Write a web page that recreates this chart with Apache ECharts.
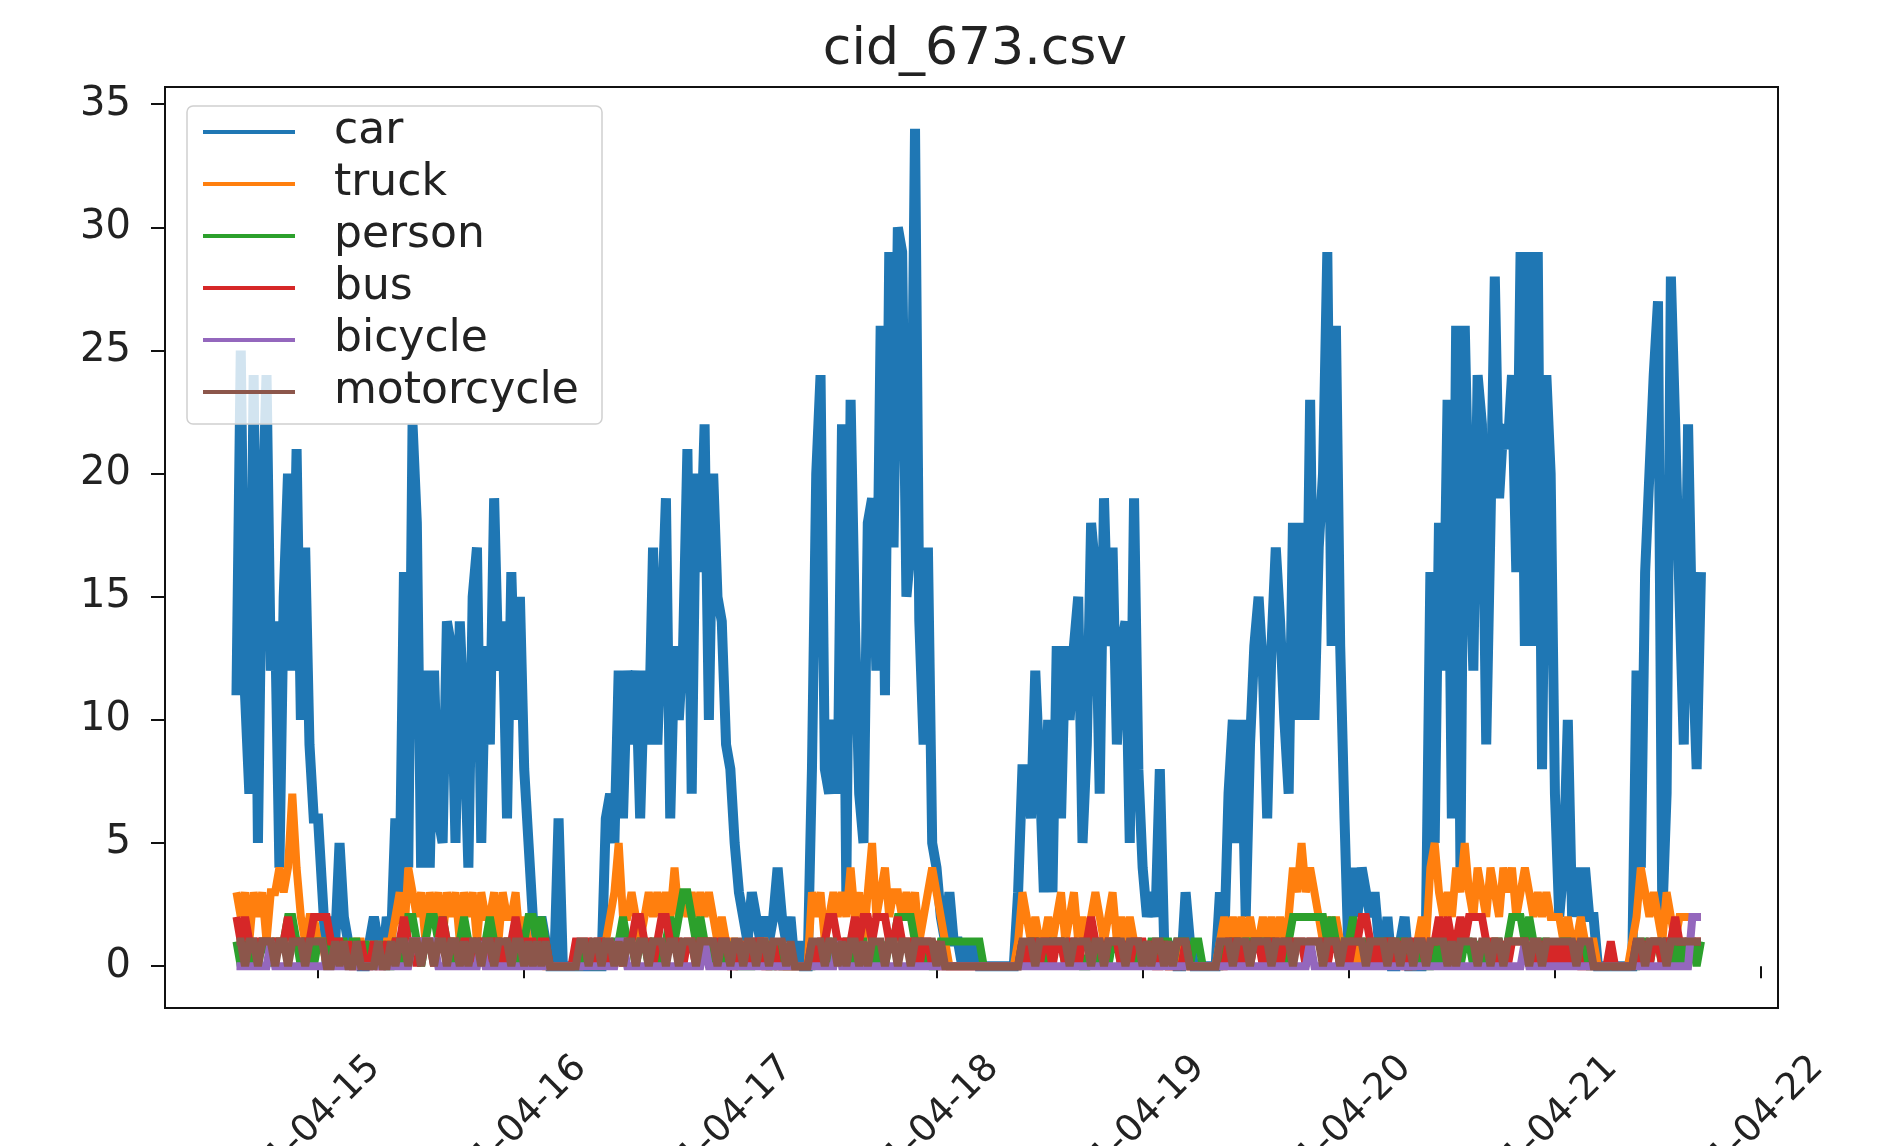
<!DOCTYPE html>
<html>
<head>
<meta charset="utf-8">
<script src="https://cdn.jsdelivr.net/npm/echarts@6/dist/echarts.min.js"></script>
<style>html,body{margin:0;padding:0;background:#fff}#chart{width:1891px;height:1146px}</style>
</head>
<body>
<div id="chart"></div>
<script>
// ---- data (30-minute samples starting 2021-04-14 14:30) ----
const START_HOUR = 14.5;   // hours after 2021-04-14 00:00
const STEP_HOURS = 0.5;

const car = [
 11,25,11,7,24,5,18,24,12,14,
 4,15,20,12,21,10,17,9,6,6,
 3,0,2,1,5,2,1,0,1,0,
 0,1,2,1,0,2,1,6,3,16,
 4,22,18,4,12,4,12,6,5,14,
 13,5,14,10,4,15,17,5,13,9,
 19,12,14,6,16,10,15,8,5,2,
 1,2,1,0,0,6,0,0,0,0,
 0,0,0,0,0,0,6,7,5,12,
 6,12,9,12,6,12,9,17,9,14,
 19,6,13,10,13,21,7,20,16,22,
 10,20,15,14,9,8,5,3,2,1,
 3,2,1,2,1,2,4,2,1,2,
 0,1,0,0,8,20,24,8,7,10,
 7,22,3,23,14,7,5,18,19,12,
 26,11,29,17,30,29,15,17,34,14,
 9,17,5,4,2,1,3,1,1,0,
 1,0,1,0,0,0,0,0,0,0,
 0,0,3,8,8,6,12,8,3,10,
 3,13,6,13,10,13,15,5,9,18,
 16,7,19,13,17,9,13,14,5,19,
 8,4,2,3,2,8,1,0,1,0,
 0,3,1,0,0,0,0,0,0,3,
 1,7,10,5,10,2,9,13,15,12,
 6,13,17,14,10,7,18,10,18,10,
 23,10,17,20,29,13,26,13,6,0,
 4,2,4,3,2,3,1,0,2,0,
 0,1,2,0,0,0,0,2,16,5,
 18,12,23,6,26,4,26,18,12,24,
 22,9,18,28,19,22,21,24,16,29,
 13,29,13,29,8,24,20,7,2,4,
 10,2,4,2,4,2,2,0,0,0,
 0,0,0,0,0,0,12,4,16,20,
 24,27,2,7,28,22,15,9,22,13,
 8,16
];

const truck = [
 3,2,3,1,3,2,3,1,3,3,
 4,3,4,7,4,2,1,2,2,1,
 1,0,1,0,1,0,1,0,1,1,
 0,1,0,1,0,1,1,2,3,1,
 4,3,2,3,1,3,2,3,1,3,
 2,3,1,3,2,3,1,3,2,2,
 3,1,3,2,2,3,1,2,1,1,
 0,1,0,0,0,0,0,0,0,0,
 0,1,0,1,0,1,1,2,3,5,
 2,2,3,2,1,2,3,2,3,2,
 3,2,4,2,3,2,3,2,3,2,
 3,2,1,2,1,1,1,0,1,0,
 1,0,1,1,0,1,0,1,0,0,
 0,0,0,0,3,2,3,1,2,3,
 2,3,2,4,2,3,1,3,5,2,
 3,4,2,3,3,2,3,2,3,1,
 2,3,4,3,2,1,0,0,0,0,
 0,0,0,0,0,0,0,0,0,0,
 0,0,1,3,2,1,2,1,1,2,
 1,2,3,1,2,3,1,2,1,2,
 3,2,1,2,3,1,2,1,2,1,
 1,0,1,0,1,0,1,0,0,0,
 1,0,0,0,0,0,0,0,0,1,
 2,1,2,1,2,1,2,1,1,2,
 1,2,1,2,1,2,4,3,5,3,
 4,3,2,1,2,1,2,1,1,0,
 1,0,1,0,1,0,1,0,1,0,
 1,0,1,0,0,1,2,1,4,5,
 3,2,3,2,4,3,5,3,2,4,
 3,2,4,3,2,4,3,4,2,3,
 4,3,2,3,2,3,2,2,2,1,
 2,1,1,2,1,1,1,0,0,0,
 0,0,0,0,0,1,2,4,3,2,
 3,2,1,3,2,1,2,2,2,2,
 2,2
];

const person = [
 1,0,1,0,1,0,1,1,0,1,
 1,1,2,2,1,0,1,1,0,1,
 1,1,0,1,1,1,0,1,1,0,
 1,0,1,0,1,0,0,1,1,0,
 2,2,1,0,1,2,2,1,2,1,
 1,0,1,2,1,1,0,1,1,2,
 1,1,0,1,1,0,1,1,2,2,
 1,2,1,0,0,0,0,0,0,0,
 1,0,1,0,0,0,1,0,1,1,
 2,1,1,0,1,1,0,1,1,0,
 1,2,1,2,3,3,2,1,2,1,
 1,0,1,0,1,0,1,0,0,0,
 0,1,0,1,0,0,1,0,0,0,
 0,0,0,0,0,1,0,1,1,0,
 1,0,1,1,0,1,1,0,1,0,
 1,0,1,1,2,2,2,2,1,1,
 0,1,0,0,1,1,1,1,1,1,
 1,1,1,1,0,0,0,0,0,0,
 0,0,0,1,0,1,1,0,1,0,
 1,1,1,0,1,0,1,0,0,1,
 1,0,1,0,1,1,0,1,0,1,
 0,1,0,1,1,0,1,1,0,1,
 1,1,0,1,1,0,0,0,0,0,
 1,0,1,1,0,1,1,1,1,1,
 1,1,0,1,0,1,2,2,2,2,
 2,2,2,2,1,2,1,0,1,1,
 2,1,1,1,0,1,1,1,1,0,
 1,1,1,0,1,0,1,0,0,1,
 0,1,1,0,1,0,1,1,0,1,
 0,1,0,1,1,0,1,2,2,2,
 1,2,1,1,1,1,0,1,0,1,
 1,0,1,0,1,0,0,0,0,0,
 0,0,0,0,0,0,0,1,1,0,
 1,1,0,1,1,0,1,0,1,1,
 0,1
];

const bus = [
 2,1,2,1,1,1,1,1,1,1,
 1,1,2,1,1,1,1,1,2,2,
 2,2,1,1,1,0,1,0,0,1,
 0,0,1,0,0,1,0,1,1,2,
 1,1,0,1,1,1,0,1,2,1,
 1,1,0,1,1,0,1,1,0,1,
 1,1,0,1,1,2,1,1,1,1,
 0,1,1,0,0,0,0,0,0,1,
 1,1,1,0,1,1,0,1,0,1,
 0,1,1,2,2,1,1,0,1,2,
 2,1,1,1,0,1,1,0,1,1,
 1,1,1,1,1,0,0,1,0,1,
 0,1,1,0,0,1,0,0,0,0,
 0,0,0,0,1,0,1,1,2,2,
 1,1,1,1,2,1,2,2,1,2,
 2,2,1,1,2,1,1,1,1,0,
 1,1,0,1,0,0,0,0,0,0,
 0,0,0,0,0,0,0,0,0,0,
 0,0,0,1,0,1,1,0,1,1,
 0,1,1,0,1,1,0,1,1,2,
 1,1,0,1,1,1,0,1,0,1,
 1,1,0,1,0,0,1,0,0,0,
 0,1,0,0,0,0,0,0,0,0,
 0,1,1,1,0,1,0,1,1,0,
 1,1,1,0,1,1,1,1,1,0,
 1,1,1,1,0,1,1,0,1,0,
 1,1,2,2,1,0,1,0,1,1,
 0,1,0,0,1,1,1,0,1,1,
 2,1,2,1,1,2,1,2,2,2,
 2,1,1,1,0,1,0,1,1,1,
 1,0,1,0,1,0,1,0,1,0,
 1,0,1,0,0,0,0,0,0,0,
 1,0,0,0,0,0,1,0,1,0,
 1,1,0,1,1,2,1,1,1,1,
 1,1
];

const bicycle = [
 0,0,0,0,0,0,0,0,1,0,
 0,0,0,0,0,0,0,0,0,0,
 0,0,0,0,0,0,0,0,0,0,
 0,0,0,0,0,0,0,0,0,0,
 0,1,1,1,1,1,1,0,0,0,
 0,0,0,0,0,0,0,1,0,0,
 0,0,0,0,0,0,0,0,0,0,
 0,0,0,0,0,0,0,0,0,0,
 0,0,0,0,0,0,0,0,0,1,
 1,0,0,0,0,0,0,0,0,0,
 0,0,0,0,0,0,0,0,0,1,
 0,0,0,0,0,0,0,0,0,0,
 0,0,0,0,0,0,0,0,0,0,
 0,0,0,0,0,0,0,0,0,0,
 1,0,0,0,0,0,0,0,0,0,
 0,0,0,0,0,0,0,0,0,0,
 0,0,0,0,0,0,0,0,0,0,
 0,0,0,0,0,0,0,0,0,0,
 0,0,0,0,0,0,0,0,0,0,
 0,0,0,0,0,0,0,0,0,0,
 0,0,0,0,0,0,0,0,0,0,
 0,0,0,0,0,0,0,0,0,0,
 0,0,0,0,0,0,0,0,0,0,
 0,0,0,0,0,0,0,0,0,0,
 0,0,0,0,0,0,0,0,0,0,
 1,0,0,0,0,0,0,0,0,0,
 0,0,0,0,0,0,0,0,0,0,
 0,0,0,0,0,0,0,0,0,0,
 0,0,0,0,0,0,0,0,0,0,
 0,0,0,0,0,0,0,0,0,0,
 1,0,0,0,0,0,0,0,0,0,
 0,0,0,0,0,0,0,0,0,0,
 0,0,0,0,0,0,0,0,0,0,
 0,0,0,0,0,0,0,0,0,2,
 2,2
];

const motorcycle = [
 1,1,0,1,1,0,1,1,1,0,
 1,1,0,1,1,1,0,1,1,1,
 1,0,0,1,0,1,0,0,1,0,
 0,0,0,1,0,0,1,0,1,1,
 0,1,1,0,1,1,0,1,1,0,
 1,1,0,1,0,1,1,0,1,1,
 0,1,1,1,0,1,1,0,1,0,
 1,0,1,0,0,0,0,0,0,0,
 1,1,0,1,1,0,1,1,0,1,
 0,1,1,0,1,1,0,1,1,1,
 0,1,1,0,1,1,1,0,1,1,
 1,1,0,1,1,0,1,1,0,1,
 1,0,1,1,0,1,1,1,0,1,
 0,0,0,0,1,1,1,0,1,1,
 0,1,0,1,1,0,1,0,1,1,
 1,0,1,1,0,1,1,0,1,1,
 1,1,1,0,1,0,0,0,0,0,
 0,0,0,0,0,0,0,0,0,0,
 0,0,0,1,1,1,0,1,1,1,
 1,1,1,1,0,1,1,1,1,0,
 1,1,0,1,1,1,1,0,1,1,
 1,0,1,0,1,1,0,1,0,1,
 1,1,0,0,0,0,0,0,0,1,
 1,1,0,1,1,1,0,1,1,1,
 1,0,1,1,1,1,0,1,1,1,
 1,1,1,0,1,1,1,0,1,1,
 1,1,1,0,1,1,1,1,0,1,
 1,0,1,1,0,1,1,0,1,1,
 1,1,0,1,0,1,1,1,1,0,
 1,1,0,1,1,0,1,1,1,1,
 1,0,1,1,0,1,1,1,1,1,
 1,1,0,1,1,1,0,0,0,0,
 0,0,0,0,0,0,1,1,0,1,
 1,1,1,0,1,1,1,1,1,1,
 1,1
];

const seriesNames = ['car', 'truck', 'person', 'bus', 'bicycle', 'motorcycle'];
const seriesValues = [car, truck, person, bus, bicycle, motorcycle];
const seriesColors = ['#1f77b4', '#ff7f0e', '#2ca02c', '#d62728', '#9467bd', '#8c564b'];
const seriesWidths = [10, 8, 8, 8, 8, 8];

const xTickHours = [24, 48, 72, 96, 120, 144, 168, 192];
const xTickLabels = ['2021-04-15', '2021-04-16', '2021-04-17', '2021-04-18', '2021-04-19', '2021-04-20', '2021-04-21', '2021-04-22'];
const yTicks = [0, 5, 10, 15, 20, 25, 30, 35];

// ---- chart ----
const FONT = 'DejaVu Sans';
const chart = echarts.init(document.getElementById('chart'), null, { renderer: 'canvas' });

const series = seriesNames.map((name, k) => ({
  name: name,
  type: 'line',
  symbol: 'none',
  showSymbol: false,
  animation: false,
  color: seriesColors[k],
  lineStyle: { width: seriesWidths[k], color: seriesColors[k], join: 'miter', miterLimit: 2 },
  data: seriesValues[k].map((v, i) => [START_HOUR + i * STEP_HOURS, v])
}));

chart.setOption({
  animation: false,
  backgroundColor: '#ffffff',
  title: {
    text: 'cid_673.csv',
    left: 970,
    textAlign: 'center',
    top: 19,
    textStyle: { fontFamily: FONT, fontSize: 52, fontWeight: 'normal', color: '#222' }
  },
  grid: {
    left: 165, right: 113, top: 87, bottom: 138,
    outerBoundsMode: 'none',
    containLabel: false,
    show: true, borderColor: '#111', borderWidth: 2, backgroundColor: 'transparent'
  },
  legend: {
    orient: 'vertical',
    left: 187, top: 106,
    padding: [4, 18, 10, 16],
    icon: 'rect',
    itemWidth: 92, itemHeight: 4, itemGap: 8,
    backgroundColor: 'rgba(255,255,255,0.8)',
    borderColor: '#d0d0d0', borderWidth: 1.5, borderRadius: 6,
    data: seriesNames,
    textStyle: { fontFamily: FONT, fontSize: 44, lineHeight: 40, height: 40, color: '#222', padding: [0, 0, 0, 34], width: 250 }
  },
  xAxis: {
    type: 'value',
    min: 6.18, max: 193.97,
    axisLine: { show: false },
    splitLine: { show: false },
    axisTick: { show: true, length: 12, lineStyle: { color: '#111', width: 2 }, customValues: xTickHours },
    axisLabel: {
      customValues: xTickHours,
      formatter: (v) => xTickLabels[xTickHours.indexOf(v)],
      rotate: 45, align: 'center', verticalAlign: 'middle', margin: 111,
      padding: [0, 55, 0, 0],
      fontFamily: FONT, fontSize: 37, color: '#222'
    }
  },
  yAxis: {
    type: 'value',
    min: -1.7, max: 35.7,
    axisLine: { show: false },
    splitLine: { show: false },
    axisTick: { show: true, length: 14, lineStyle: { color: '#111', width: 2 }, customValues: yTicks },
    axisLabel: {
      customValues: yTicks,
      margin: 34,
      fontFamily: FONT, fontSize: 40, color: '#222'
    }
  },
  series: series
});
</script>
</body>
</html>
